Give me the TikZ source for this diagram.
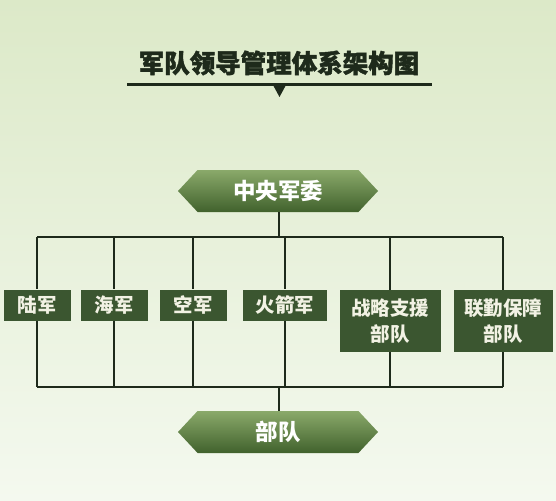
\documentclass[tikz,border=0pt]{standalone}
\usepackage{fontspec}
\newfontfamily\cjk{Noto Sans CJK SC}
\newfontfamily\cjkheavy[BoldFeatures={FakeBold=1.6}]{Noto Sans CJK SC}
\usepackage{tikz}
\usetikzlibrary{positioning}
\usetikzlibrary{shapes.symbols}

\definecolor{bgtop}{HTML}{DCE9C8}
\definecolor{bgbot}{HTML}{F4F9EF}
\definecolor{boxgreen}{HTML}{3B5630}
\definecolor{hextop}{HTML}{8AA96A}
\definecolor{hexbot}{HTML}{41622D}
\definecolor{inkdark}{HTML}{1E2A1B}
\definecolor{boxtext}{HTML}{F2F2E4}

\begin{document}
\begin{tikzpicture}[%
    x=1pt,
    y=-1pt,
    bus/.style={%
      draw=inkdark,
      line width=1.3pt
    },
    headline/.style={%
      font=\cjkheavy\bfseries\fontsize{25.5}{28}\selectfont,
      text=inkdark,
      inner sep=0pt
    },
    hexbox/.style={%
      signal,
      signal to=west and east,
      signal pointer angle=94,
      minimum width=200pt,
      minimum height=42pt,
      inner sep=0pt,
      top color=hextop,
      bottom color=hexbot,
      draw=none,
      text=white,
      font=\cjk\bfseries\fontsize{22.5}{24}\selectfont
    },
    armbox/.style={%
      rectangle,
      fill=boxgreen,
      minimum width=67pt,
      minimum height=31pt,
      inner sep=0pt,
      align=center,
      text=boxtext,
      font=\cjk\bfseries\fontsize{19.5}{26}\selectfont
    }
  ]
  % Background: 
    \fill[top color=bgtop, bottom color=bgbot] (0,0) rectangle (556,500);
    \useasboundingbox (0,0) rectangle (556,500);
  % Title: 
    \node[headline] (title) at (279,63) {军队领导管理体系架构图};
    \coordinate (ruleL) at (127,85);
    \coordinate (ruleR) at (432,85);
    \draw[draw=inkdark, line width=3pt] (ruleL) -- (ruleR);
    \fill[inkdark] (273,85) -- (286,85) -- (279.5,97) -- cycle;
  % Nodes: 
    \node[hexbox] (CMC) at (278,191) {中央军委};
    \node[hexbox] (troops) at (278,432) {部队};
    \node[armbox] (lujun)   at (37,305)  {陆军};
    \node[armbox] (haijun)  at (114,305) {海军};
    \node[armbox] (kongjun) at (193,305) {空军};
    \node[armbox, minimum width=84pt] (huojian) at (285,305) {火箭军};
    \node[armbox, minimum width=101pt, minimum height=62pt] (zhanlue) at (390,321) {战略支援\\部队};
    \node[armbox, minimum width=99pt, minimum height=62pt]  (lianqin) at (503,321) {联勤保障\\部队};
  % Paths: 
    \coordinate (topbus) at (279,237);
    \coordinate (botbus) at (279,387);
    \draw[bus] (CMC.south -| topbus) -- (topbus);
    \draw[bus] (botbus) -- (troops.north -| botbus);
    \draw[bus] (lujun.north |- topbus) -- (lianqin.north |- topbus);
    \draw[bus] (lujun.south |- botbus) -- (lianqin.south |- botbus);
    \foreach \arm in {lujun,haijun,kongjun,huojian,zhanlue,lianqin}{%
      \draw[bus] (\arm.north |- topbus) -- (\arm.north);
      \draw[bus] (\arm.south) -- (\arm.south |- botbus);
    }
\end{tikzpicture}
\end{document}
